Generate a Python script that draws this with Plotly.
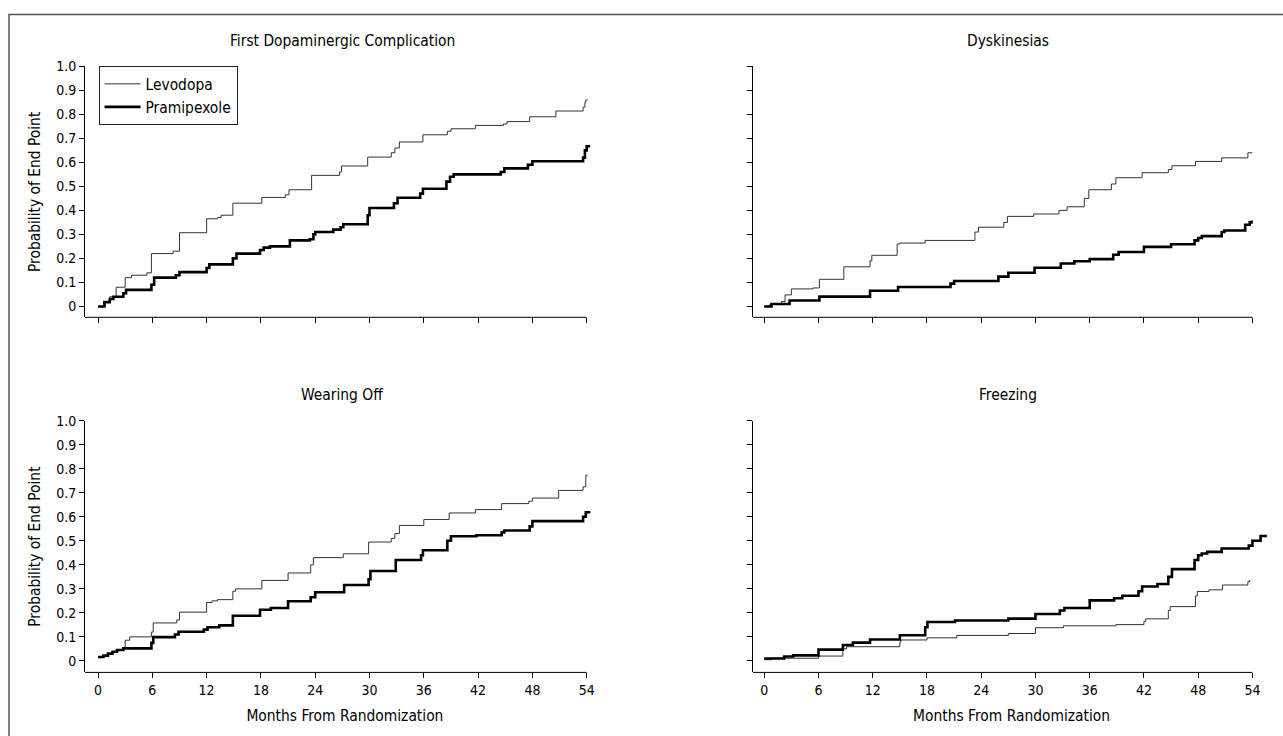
import plotly.graph_objects as go

W, H = 1283, 736

# ---------------- data (months, cumulative probability of end point) ----------------
fdc_lev_t = [0, 0.8, 1.3, 2.0, 3.0, 3.7, 5.4, 5.9, 8.3, 9.0, 12.0, 13.2, 13.6, 14.9, 18.1, 20.7, 21.1,
             23.6, 26.7, 26.9, 29.8, 32.4, 32.8, 33.3, 35.9, 38.6, 39.0, 41.7, 44.8, 45.2, 47.7, 50.6,
             53.6, 53.8, 53.9, 54.1]
fdc_lev_p = [0, 0.02, 0.04, 0.08, 0.12, 0.13, 0.14, 0.22, 0.23, 0.307, 0.365, 0.37, 0.38, 0.43, 0.454,
             0.465, 0.486, 0.546, 0.56, 0.585, 0.622, 0.64, 0.66, 0.685, 0.715, 0.73, 0.74, 0.754, 0.76,
             0.77, 0.79, 0.814, 0.83, 0.85, 0.86, 0.86]
fdc_pra_t = [0, 0.7, 1.3, 1.7, 2.8, 3.1, 5.9, 6.2, 8.6, 9.0, 12.0, 12.3, 14.9, 15.3, 17.9, 18.3, 19.0,
             21.2, 23.4, 23.8, 24.0, 26.0, 26.8, 27.1, 29.8, 30.0, 32.7, 33.1, 35.6, 35.9, 38.5, 38.9,
             39.3, 44.5, 44.9, 47.5, 48.0, 53.6, 53.8, 54.0, 54.4]
fdc_pra_p = [0, 0.018, 0.031, 0.04, 0.055, 0.069, 0.09, 0.12, 0.13, 0.143, 0.16, 0.175, 0.20, 0.22,
             0.235, 0.245, 0.25, 0.275, 0.28, 0.30, 0.31, 0.32, 0.33, 0.342, 0.38, 0.41, 0.43, 0.453,
             0.47, 0.49, 0.52, 0.54, 0.55, 0.56, 0.575, 0.59, 0.605, 0.62, 0.65, 0.667, 0.667]

dys_lev_t = [0, 0.6, 1.9, 2.3, 3.0, 5.4, 6.1, 8.8, 11.7, 11.9, 14.7, 15.0, 17.8, 23.3, 23.7, 26.5,
             26.9, 29.8, 32.6, 33.5, 35.4, 35.9, 38.4, 38.9, 41.8, 44.7, 45.1, 47.7, 50.6, 53.5, 54.0]
dys_lev_p = [0, 0.008, 0.02, 0.048, 0.073, 0.077, 0.113, 0.165, 0.19, 0.213, 0.26, 0.264, 0.275, 0.31,
             0.33, 0.35, 0.375, 0.385, 0.40, 0.415, 0.45, 0.486, 0.51, 0.536, 0.557, 0.57, 0.586, 0.604,
             0.619, 0.64, 0.64]
dys_pra_t = [0, 0.8, 2.8, 6.1, 11.7, 14.8, 20.6, 21.0, 25.9, 27.0, 29.9, 32.8, 34.3, 36.0, 38.6, 39.2,
             42.0, 45.0, 47.6, 48.0, 48.4, 50.6, 50.9, 53.2, 53.7, 53.9]
dys_pra_p = [0, 0.01, 0.025, 0.041, 0.065, 0.081, 0.095, 0.106, 0.124, 0.14, 0.161, 0.179, 0.188,
             0.197, 0.215, 0.227, 0.248, 0.259, 0.275, 0.285, 0.293, 0.31, 0.316, 0.34, 0.35, 0.358]

wo_lev_t = [0, 0.6, 1.1, 1.6, 2.1, 2.8, 3.0, 3.5, 5.9, 6.1, 8.7, 9.0, 12.0, 12.6, 13.2, 14.9, 15.2,
            18.1, 21.0, 23.5, 23.8, 27.1, 29.9, 32.4, 32.8, 33.3, 36.0, 38.8, 41.7, 44.6, 47.6, 48.0,
            50.9, 53.6, 53.9, 54.1]
wo_lev_p = [0.016, 0.022, 0.03, 0.038, 0.045, 0.052, 0.086, 0.10, 0.12, 0.158, 0.17, 0.203, 0.243,
            0.25, 0.255, 0.29, 0.30, 0.335, 0.366, 0.40, 0.43, 0.446, 0.495, 0.51, 0.53, 0.564, 0.589,
            0.616, 0.63, 0.655, 0.665, 0.678, 0.71, 0.725, 0.773, 0.773]
wo_pra_t = [0, 0.6, 1.1, 1.6, 2.1, 2.8, 5.9, 6.1, 8.5, 8.9, 11.7, 12.1, 13.4, 14.9, 17.9, 19.1, 21.0,
            23.5, 24.0, 27.2, 29.9, 30.1, 32.9, 35.7, 35.9, 38.6, 39.0, 41.8, 44.6, 44.9, 47.7, 48.0,
            53.6, 53.9, 54.4]
wo_pra_p = [0.016, 0.022, 0.03, 0.038, 0.045, 0.052, 0.075, 0.099, 0.11, 0.121, 0.13, 0.14, 0.148,
            0.188, 0.213, 0.22, 0.248, 0.265, 0.286, 0.316, 0.34, 0.374, 0.42, 0.44, 0.461, 0.50,
            0.519, 0.523, 0.535, 0.543, 0.56, 0.582, 0.60, 0.619, 0.619]

frz_lev_t = [0, 0.8, 6.0, 8.7, 9.1, 15.0, 15.1, 18.0, 21.3, 27.0, 30.0, 33.1, 38.9, 42.0, 42.2, 44.7,
             44.9, 47.7, 47.9, 49.2, 50.7, 53.5, 53.7]
frz_lev_p = [0.005, 0.011, 0.02, 0.05, 0.059, 0.078, 0.087, 0.096, 0.106, 0.114, 0.138, 0.146, 0.151,
             0.165, 0.175, 0.21, 0.226, 0.27, 0.289, 0.296, 0.316, 0.33, 0.337]
frz_pra_t = [0, 2.2, 3.2, 6.0, 8.7, 9.8, 11.7, 15.0, 17.8, 18.05, 21.1, 27.0, 30.0, 32.7, 33.2, 36.0,
             38.7, 39.6, 41.4, 41.8, 43.5, 44.7, 45.1, 47.6, 48.0, 48.4, 49.0, 50.6, 53.6, 54.0, 54.9, 55.6]
frz_pra_p = [0.01, 0.018, 0.023, 0.047, 0.066, 0.076, 0.089, 0.107, 0.14, 0.162, 0.168, 0.176, 0.195,
             0.21, 0.22, 0.252, 0.261, 0.271, 0.29, 0.31, 0.32, 0.35, 0.382, 0.42, 0.44, 0.447, 0.454,
             0.468, 0.48, 0.50, 0.52, 0.52]

panel_titles = ["First Dopaminergic Complication", "Dyskinesias", "Wearing Off", "Freezing"]
series_names = ["Levodopa", "Pramipexole"]
x_tickvals = [0, 6, 12, 18, 24, 30, 36, 42, 48, 54]
y_tickvals = [0, 0.1, 0.2, 0.3, 0.4, 0.5, 0.6, 0.7, 0.8, 0.9, 1.0]
y_ticktext = ["0", "0.1", "0.2", "0.3", "0.4", "0.5", "0.6", "0.7", "0.8", "0.9", "1.0"]
x_title = "Months From Randomization"
y_title = "Probability of End Point"

panel_data = [
    (fdc_lev_t, fdc_lev_p, fdc_pra_t, fdc_pra_p),
    (dys_lev_t, dys_lev_p, dys_pra_t, dys_pra_p),
    (wo_lev_t, wo_lev_p, wo_pra_t, wo_pra_p),
    (frz_lev_t, frz_lev_p, frz_pra_t, frz_pra_p),
]

# ---------------- layout geometry (pixels) ----------------
FONT = "DejaVu Sans Condensed, Liberation Sans Narrow, Liberation Sans, Arial, sans-serif"
TITLE_SIZE = 15.4
TICK_SIZE = 14
# x: [left px, right px, range min]; y: [top px, bottom px, range min]
xgeo = [(85.0, 604.8, -1.44), (752.7, 1270.5, -1.28)]
ygeo = [(59.0, 312.7, -0.0453), (417.3, 671.7, -0.048)]

def fx(p):
    return p / W

def fy(p):
    return 1 - p / H

fig = go.Figure()
layout = dict(
    width=W, height=H, margin=dict(l=0, r=0, t=0, b=0),
    paper_bgcolor="white", plot_bgcolor="white",
    font=dict(family=FONT, size=TICK_SIZE, color="black"),
    showlegend=True,
    legend=dict(x=fx(98.5), y=fy(59), xanchor="left", yanchor="top",
                bordercolor="#222222", borderwidth=1, bgcolor="white",
                font=dict(family=FONT, size=15.4), tracegroupgap=0, itemwidth=36),
)
shapes = []
annotations = []

for i, (lt, lp, pt, pp) in enumerate(panel_data):
    row, col = divmod(i, 2)
    n = "" if i == 0 else str(i + 1)
    xl, xr, xmin = xgeo[col]
    yt, yb, ymin = ygeo[row]
    fig.add_trace(go.Scatter(x=lt, y=lp, mode="lines", line=dict(shape="hv", color="#333333", width=1),
                             name=series_names[0], showlegend=(i == 0), xaxis="x" + n, yaxis="y" + n))
    fig.add_trace(go.Scatter(x=pt, y=pp, mode="lines", line=dict(shape="hv", color="black", width=2.6),
                             name=series_names[1], showlegend=(i == 0), xaxis="x" + n, yaxis="y" + n))
    layout["xaxis" + n] = dict(
        domain=[fx(xl), fx(xr)], range=[xmin, 56], anchor="y" + n,
        showline=False, showgrid=False, zeroline=False,
        tickmode="array", tickvals=x_tickvals, ticks="outside", ticklen=5, tickcolor="black",
        showticklabels=(row == 1), tickfont=dict(size=TICK_SIZE),
        title=dict(text=x_title if row == 1 else "", standoff=13, font=dict(size=TITLE_SIZE)),
    )
    layout["yaxis" + n] = dict(
        domain=[fy(yb), fy(yt)], range=[ymin, 1.0], anchor="x" + n,
        showline=True, linecolor="black", linewidth=1, showgrid=False, zeroline=False,
        tickmode="array", tickvals=y_tickvals, ticktext=y_ticktext, ticks="outside", ticklen=5,
        tickcolor="black", showticklabels=(col == 0), tickfont=dict(size=TICK_SIZE),
        title=dict(text=y_title if col == 0 else "", standoff=11, font=dict(size=TITLE_SIZE)),
    )
    # x axis line ending at 54 months
    shapes.append(dict(type="line", xref="x" + n, yref="y" + n + " domain", x0=xmin, x1=54, y0=0, y1=0,
                       line=dict(color="black", width=1)))
    annotations.append(dict(text=panel_titles[i], xref="x" + n, yref="paper", x=27, y=fy(yt - 26),
                            xanchor="center", yanchor="middle", showarrow=False,
                            font=dict(size=TITLE_SIZE)))

# outer frame
shapes.append(dict(type="rect", xref="paper", yref="paper", x0=fx(9), x1=1.05, y0=-0.05, y1=fy(6.5),
                   line=dict(color="#555555", width=1.5), layer="below"))

layout["shapes"] = shapes
layout["annotations"] = annotations
fig.update_layout(**layout)
fig.write_html("out.html", config={"displayModeBar": False},
               post_script="document.body.style.margin='0';document.body.style.overflow='hidden';")
